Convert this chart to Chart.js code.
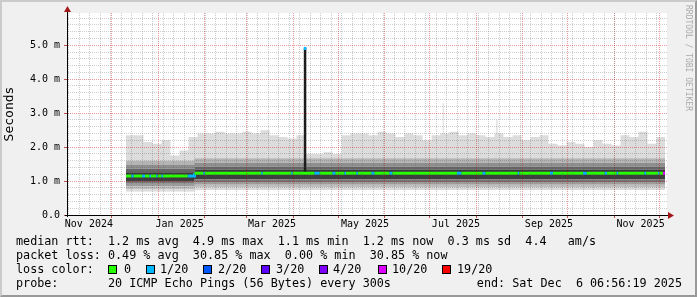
<!DOCTYPE html>
<html>
<head>
<meta charset="utf-8">
<script src="https://cdn.jsdelivr.net/npm/chart.js@4.4.1/dist/chart.umd.min.js"></script>
<style>
body { margin: 0; background: #f0f0f0; }
#wrap { position: relative; width: 697px; height: 297px; overflow: hidden; background: #f0f0f0; }
#frame { position: absolute; left: 0; top: 0; width: 697px; height: 297px; box-sizing: border-box;
  border-style: solid; border-width: 2px; border-color: #cbcbcb #999 #999 #cbcbcb; pointer-events: none; }
.leg { position: absolute; font: 11.76px 'DejaVu Sans Mono', monospace; line-height: 14px; white-space: pre; color: #000; }
.box { position: absolute; width: 7px; height: 7px; border: 1px solid #000; }
#wm { position: absolute; left: 684px; top: 5px; writing-mode: vertical-rl; font: 8px 'DejaVu Sans Mono', monospace; color: #aaa; white-space: pre; }
</style>
</head>
<body>
<div id="wrap">
  <canvas id="myChart" width="697" height="297"></canvas>
  <div id="wm">RRDTOOL / TOBI OETIKER</div>
  <div class="leg" style="left:16px;top:234px">median rtt:  1.2 ms avg  4.9 ms max  1.1 ms min  1.2 ms now  0.3 ms sd  4.4   am/s</div>
  <div class="leg" style="left:16px;top:248px">packet loss: 0.49 % avg  30.85 % max  0.00 % min  30.85 % now</div>
  <div class="leg" style="left:16px;top:262px">loss color:</div>
  <div id="lossRow"></div>
  <div class="leg" style="left:16px;top:276px">probe:       20 ICMP Echo Pings (56 Bytes) every 300s</div>
  <div class="leg" style="right:15px;top:276px">end: Sat Dec  6 06:56:19 2025</div>
  <div id="frame"></div>
</div>
<script>
// x values are days since the start of the 400 day window (Nov 1 2024)
var xLabelDays = [14.6, 75.1, 136.7, 198.7, 259.3, 321.3, 382.4];
var xLabels = ['Nov 2024', 'Jan 2025', 'Mar 2025', 'May 2025', 'Jul 2025', 'Sep 2025', 'Nov 2025'];
var monthDays = [29.7, 60.7, 91.7, 119.7, 150.7, 180.7, 211.7, 241.7, 272.7, 303.7, 333.7, 364.7, 394.7];
var yLabelValues = [0, 1, 2, 3, 4, 5];
var yLabels = ['0.0', '1.0 m', '2.0 m', '3.0 m', '4.0 m', '5.0 m'];

// smoke: outer maximum of the pings (ms)
var smokeDays = [39.3, 45, 51, 57, 63, 69, 75, 81, 87, 93, 99, 105, 111, 117, 123, 129, 135, 141, 147, 153,
  158.7, 165, 171, 177, 183, 189, 195, 201, 207, 213, 219, 225, 231, 237, 243, 249, 250.5, 251.2, 255, 261,
  267, 273, 279, 285, 286.2, 287, 291, 297, 303, 309, 315, 321, 327, 333, 339, 345, 351, 357, 363, 369,
  375, 381, 387, 393, 398.7];
var smokeMax = [2.35, 2.35, 2.15, 2.1, 2.2, 1.75, 1.9, 2.3, 2.4, 2.4, 2.45, 2.4, 2.4, 2.45, 2.4, 2.5, 2.35, 2.3, 2.25, 2.35,
  1.8, 1.8, 1.85, 1.8, 2.35, 2.4, 2.4, 2.35, 2.45, 2.4, 2.3, 2.4, 2.35, 2.2, 2.35, 2.4, 3.3, 2.4, 2.45, 2.35,
  2.4, 2.35, 2.3, 2.4, 2.8, 2.4, 2.3, 2.35, 2.2, 2.3, 2.35, 2.1, 2.05, 2.15, 2.1, 2.0, 2.2, 2.1, 2.05, 2.35,
  2.3, 2.45, 2.1, 2.3, 2.3];

// inner smoke bands, two regimes (before / after Jan 24)
var regimeDays = [39.3, 85, 398.7];
var smokeLo5 = [0.69, 0.74, 0.74];
var smokeLo4 = [0.76, 0.81, 0.81];
var smokeLo3 = [0.84, 0.89, 0.89];
var smokeLo2 = [0.92, 0.97, 0.97];
var smokeLo1 = [1.00, 1.05, 1.05];
var smokeMid = [1.15, 1.23, 1.23];
var smokeUp1 = [1.26, 1.33, 1.33];
var smokeUp2 = [1.36, 1.43, 1.43];
var smokeUp3 = [1.47, 1.54, 1.54];
var smokeUp4 = [1.60, 1.67, 1.67];

// median rtt with loss level index per step
var medianDays = [39.3, 43, 44.5, 50, 52, 55, 56, 59.5, 60.5, 63, 64, 80.5, 85, 91, 92, 129.5, 130.5, 149.5, 150.5,
  165, 168.5, 177, 179, 185, 186, 193, 194, 203, 205, 215, 217, 260, 263, 277, 279, 300.5, 301.5, 322, 324,
  344, 346.5, 358.5, 360, 366.5, 367.5, 385, 386, 394, 395, 397.3, 398.7];
var medianRtt = [1.15, 1.15, 1.15, 1.15, 1.15, 1.15, 1.15, 1.15, 1.15, 1.15, 1.15, 1.15, 1.23, 1.23, 1.23, 1.23, 1.23, 1.23, 1.23,
  1.23, 1.23, 1.23, 1.23, 1.23, 1.23, 1.23, 1.23, 1.23, 1.23, 1.23, 1.23, 1.23, 1.23, 1.23, 1.23, 1.23, 1.23, 1.23, 1.23,
  1.23, 1.23, 1.23, 1.23, 1.23, 1.23, 1.23, 1.23, 1.23, 1.23, 1.23, 1.23];
var medianLoss = [0, 1, 0, 1, 0, 1, 0, 1, 0, 1, 0, 1, 0, 1, 0, 1, 0, 1, 0,
  1, 0, 1, 0, 1, 0, 1, 0, 1, 0, 1, 0, 1, 0, 1, 0, 1, 0, 1, 0,
  1, 0, 1, 0, 1, 0, 1, 0, 1, 0, 5, 5];

var spikeDays = [158.7, 158.7];
var spikeRtt = [1.23, 4.93];
var spikeTopRtt = [4.86, 4.95];

var lossColors = ['#26ff00', '#00b8ff', '#0059ff', '#5e00ff', '#7e00ff', '#dd00ff', '#ff0000'];
var lossLabels = ['0', '1/20', '2/20', '3/20', '4/20', '10/20', '19/20'];
var lossBoxX = [108, 146, 203, 261, 319, 378, 442];
var lossTextX = [124, 160, 218, 276, 333, 392, 457];

var row = document.getElementById('lossRow');
lossLabels.forEach(function (l, i) {
  var b = document.createElement('div');
  b.className = 'box';
  b.style.left = lossBoxX[i] + 'px';
  b.style.top = '265px';
  b.style.background = lossColors[i];
  row.appendChild(b);
  var t = document.createElement('div');
  t.className = 'leg';
  t.style.left = lossTextX[i] + 'px';
  t.style.top = '262px';
  t.textContent = l;
  row.appendChild(t);
});

function pts(xs, ys) {
  return xs.map(function (x, i) { return { x: x, y: ys[i] }; });
}

// grid ticks
var xTicks = [];
for (var w = 1.1; w < 400; w += 7) xTicks.push({ value: w, kind: 'minor' });
monthDays.forEach(function (d) { xTicks.push({ value: d, kind: 'major' }); });
xLabelDays.forEach(function (d, i) { xTicks.push({ value: d, kind: 'label', txt: xLabels[i] }); });
xTicks.sort(function (a, b) { return a.value - b.value; });

var yTicks = [];
for (var k = 0; k <= 29; k++) {
  var v = k / 5;
  var li = yLabelValues.indexOf(v);
  yTicks.push({ value: v, kind: li >= 0 ? 'major' : 'minor', txt: li >= 0 ? yLabels[li] : '' });
}

// grid is drawn over the data, so it is see-through like rrdtool's
var minorCol = 'rgba(90,90,90,0.3)';
var majorCol = 'rgba(200,0,0,0.4)';
function gridCol(c) {
  if (!c.tick) return 'rgba(0,0,0,0)';
  if (c.tick.kind === 'major') return majorCol;
  if (c.tick.kind === 'minor') return minorCol;
  return 'rgba(0,0,0,0)';
}
function tickCol(c) {
  if (!c.tick) return 'rgba(0,0,0,0)';
  return c.tick.kind === 'major' ? '#c05050' : 'rgba(0,0,0,0)';
}

var bounds = [smokeLo5, smokeLo4, smokeLo3, smokeLo2, smokeLo1, smokeMid, smokeUp1, smokeUp2, smokeUp3, smokeUp4];
var shades = [null, '#dadada', '#bebebe', '#9c9c9c', '#767676', '#3e3e3e', '#3a3a3a', '#666666', '#8e8e8e', '#b4b4b4'];
var datasets = bounds.map(function (b, i) {
  return {
    data: pts(regimeDays, b), stepped: true, borderWidth: 0, borderColor: 'rgba(0,0,0,0)',
    pointRadius: 0, fill: i ? '-1' : false, backgroundColor: shades[i] || 'rgba(0,0,0,0)', order: 10
  };
});
datasets.push({
  data: pts(smokeDays, smokeMax), stepped: true, borderWidth: 0, borderColor: 'rgba(0,0,0,0)',
  pointRadius: 0, fill: '-1', backgroundColor: '#dcdcdc', order: 10
});
datasets.push({
  data: pts(spikeDays, spikeRtt), borderColor: '#1c1c1c', borderWidth: 2.5, pointRadius: 0, fill: false, order: 3
});
datasets.push({
  data: pts(spikeDays, spikeTopRtt), borderColor: lossColors[1], borderWidth: 2.5, pointRadius: 0, fill: false, order: 2
});
datasets.push({
  data: pts(medianDays, medianRtt), stepped: true, borderWidth: 3, borderCapStyle: 'butt', pointRadius: 0, fill: false, order: 1,
  borderColor: lossColors[0],
  segment: { borderColor: function (c) { return lossColors[medianLoss[c.p0DataIndex]]; } }
});

var plotBg = {
  id: 'plotBg',
  beforeDraw: function (chart) {
    var a = chart.chartArea, ctx = chart.ctx;
    ctx.save();
    ctx.fillStyle = '#ffffff';
    ctx.fillRect(a.left, a.top, a.right - a.left, a.bottom - a.top);
    ctx.restore();
  }
};
var axisArrows = {
  id: 'axisArrows',
  afterDraw: function (chart) {
    var a = chart.chartArea, ctx = chart.ctx;
    ctx.save();
    ctx.strokeStyle = '#000';
    ctx.lineWidth = 1;
    ctx.beginPath();
    ctx.moveTo(a.left + 0.5, a.bottom + 2);
    ctx.lineTo(a.left + 0.5, a.top - 3);
    ctx.moveTo(a.left - 2, a.bottom + 0.5);
    ctx.lineTo(a.right + 3, a.bottom + 0.5);
    ctx.stroke();
    ctx.fillStyle = '#a01818';
    ctx.beginPath();
    ctx.moveTo(a.left - 3, a.top - 1);
    ctx.lineTo(a.left + 4, a.top - 1);
    ctx.lineTo(a.left + 0.5, a.top - 7);
    ctx.closePath();
    ctx.fill();
    ctx.beginPath();
    ctx.moveTo(a.right + 1, a.bottom - 3);
    ctx.lineTo(a.right + 1, a.bottom + 4);
    ctx.lineTo(a.right + 7, a.bottom + 0.5);
    ctx.closePath();
    ctx.fill();
    ctx.restore();
  }
};

var tickFont = { family: 'DejaVu Sans Mono', size: 10 };
var ctx = document.getElementById('myChart').getContext('2d');
var chart = new Chart(ctx, {
  type: 'line',
  data: { datasets: datasets },
  options: {
    responsive: false,
    animation: false,
    devicePixelRatio: 1,
    layout: { padding: { left: 0, right: 30, top: 13, bottom: 62 } },
    plugins: { legend: { display: false }, tooltip: { enabled: false } },
    scales: {
      x: {
        type: 'linear', min: 0, max: 400,
        afterBuildTicks: function (s) { s.ticks = xTicks.map(function (t) { return Object.assign({}, t); }); },
        afterFit: function (s) { s.height = 20; },
        ticks: {
          autoSkip: false, maxRotation: 0, minRotation: 0, padding: 0, color: '#000', font: tickFont,
          callback: function (v, i, t) { return t[i].txt || ''; }
        },
        grid: { z: 1, lineWidth: 1, tickLength: 3, color: gridCol, tickColor: tickCol },
        border: { color: '#000', width: 1, dash: [1, 1], z: 1 }
      },
      y: {
        min: 0, max: 5.95,
        afterBuildTicks: function (s) { s.ticks = yTicks.map(function (t) { return Object.assign({}, t); }); },
        afterFit: function (s) { s.width = 67; },
        ticks: {
          autoSkip: false, padding: 4, color: '#000', font: tickFont,
          callback: function (v, i, t) { return t[i].txt || ''; }
        },
        grid: { z: 1, lineWidth: 1, tickLength: 3, color: gridCol, tickColor: tickCol },
        border: { color: '#000', width: 1, dash: [1, 1], z: 1 },
        title: { display: true, text: 'Seconds', color: '#000', font: { family: 'DejaVu Sans Mono', size: 13 }, padding: { top: 2, bottom: 0 } }
      }
    }
  },
  plugins: [plotBg, axisArrows]
});
</script>
</body>
</html>
